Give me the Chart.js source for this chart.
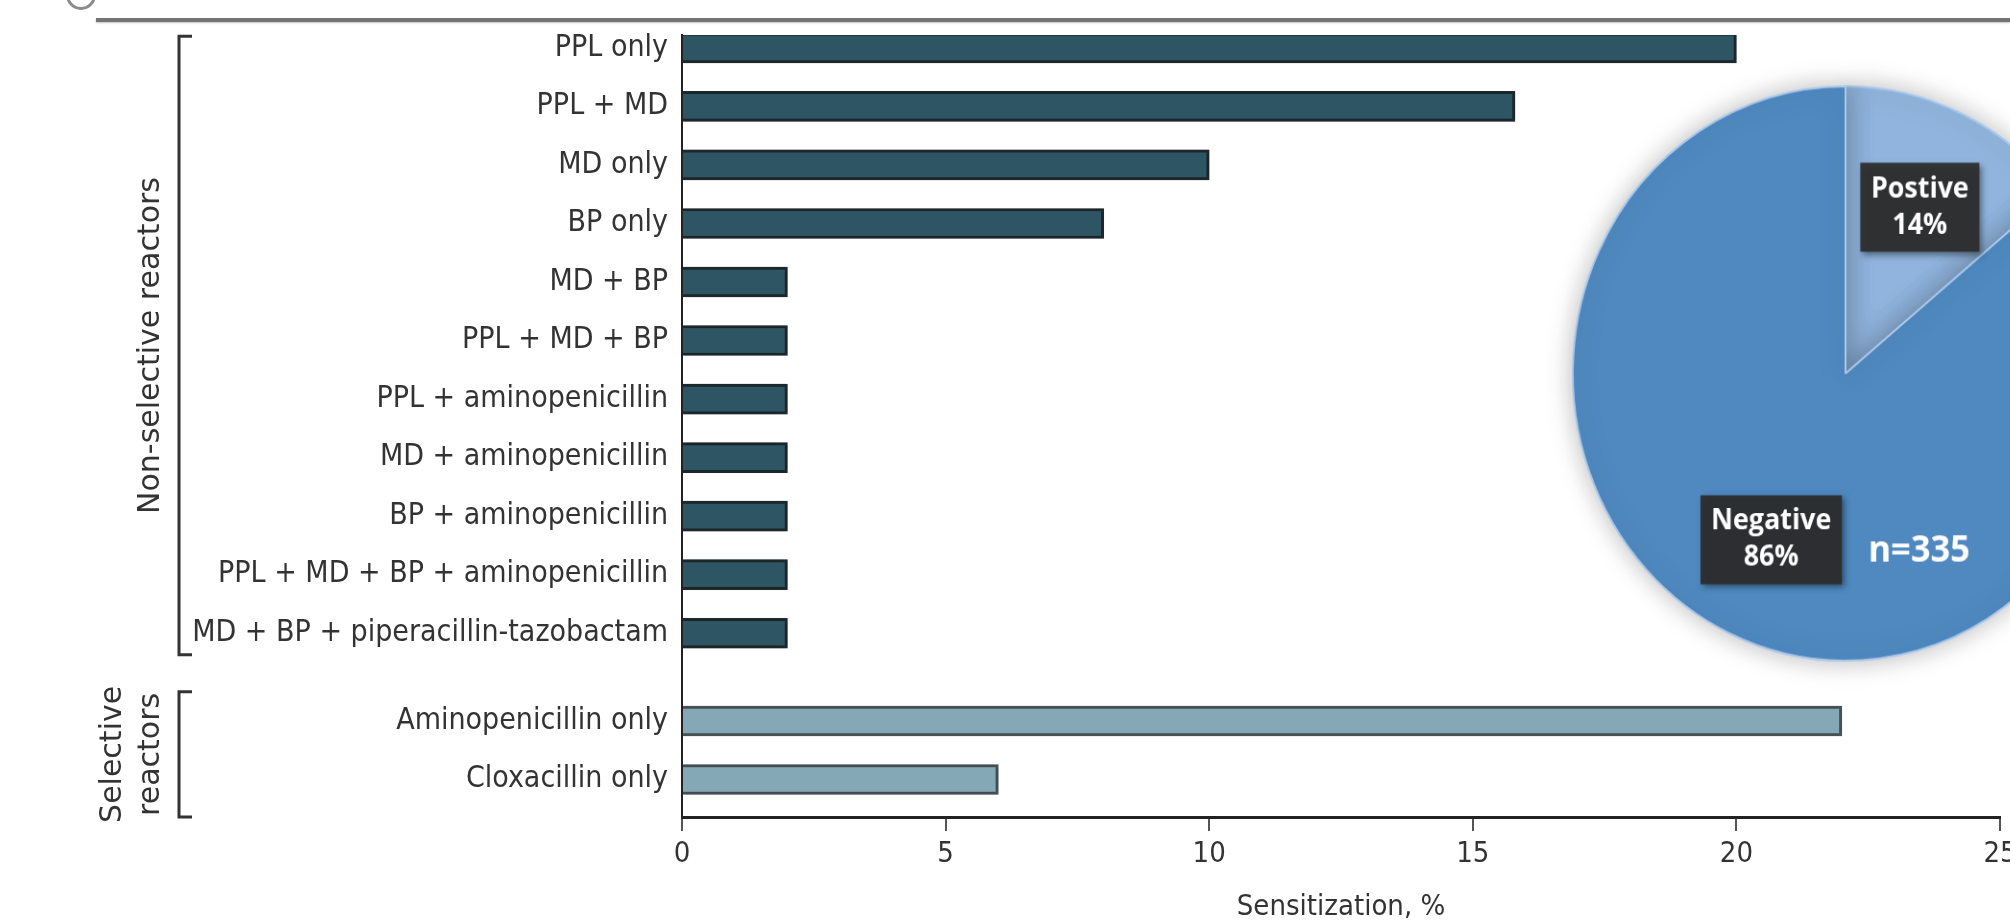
<!DOCTYPE html>
<html>
<head>
<meta charset="utf-8">
<title>Sensitization</title>
<script src="https://cdn.jsdelivr.net/npm/chart.js@4.4.0/dist/chart.umd.min.js"></script>
<style>
  html, body { margin: 0; padding: 0; background: #fff; overflow: hidden; }
  #wrap { position: relative; width: 2010px; height: 923px; overflow: hidden; }
  #barChart { position: absolute; left: 0; top: 0; }
  #pieChart { position: absolute; left: 1543px; top: 55px; width: 605px !important; height: 637px !important; }
  #rule { position: absolute; left: 96px; top: 18px; width: 1914px; height: 4px; background: #747474; box-shadow: 0 1px 2px #c4c4c4; }
  #mark { position: absolute; left: 66px; top: -20px; width: 24px; height: 24px; border: 3px solid #8a8a8a; border-radius: 50%; }
</style>
</head>
<body>
<div id="wrap">
  <div id="mark"></div>
  <div id="rule"></div>
  <canvas id="barChart" width="2010" height="923"></canvas>
  <canvas id="pieChart" width="630" height="630"></canvas>
</div>
<script>
// bar chart data
const categories = [
  'PPL only', 'PPL + MD', 'MD only', 'BP only', 'MD + BP', 'PPL + MD + BP',
  'PPL + aminopenicillin', 'MD + aminopenicillin', 'BP + aminopenicillin',
  'PPL + MD + BP + aminopenicillin', 'MD + BP + piperacillin-tazobactam',
  'Aminopenicillin only', 'Cloxacillin only'
];
const rowPositions = [0, 1, 2, 3, 4, 5, 6, 7, 8, 9, 10, 11.5, 12.5];
const sensitization = [20, 15.8, 10, 8, 2, 2, 2, 2, 2, 2, 2, 22, 6];
const reactorGroup = [0, 0, 0, 0, 0, 0, 0, 0, 0, 0, 0, 1, 1];
const groupLabels = [['Non-selective reactors'], ['Selective', 'reactors']];
const xTicks = [0, 5, 10, 15, 20, 25];

// pie data
const pieLabels = ['Postive', 'Negative'];
const piePercent = [14, 86];
const sampleSize = 335;

const groupFill = ['#2e5563', '#85a8b6'];
const groupEdge = ['#1f2a2f', '#4b575c'];
const bracketPad = [[0.2, 0.37], [0.5, 0.64]];
const labelFont = "'DejaVu Sans Condensed', 'Liberation Sans', sans-serif";

const bracketPlugin = {
  id: 'brackets',
  afterDraw(chart) {
    const ctx = chart.ctx;
    const y = chart.scales.y;
    const step = Math.abs(y.getPixelForValue(1) - y.getPixelForValue(0));
    ctx.save();
    ctx.strokeStyle = '#333';
    ctx.lineWidth = 3;
    ctx.fillStyle = '#333';
    ctx.font = "30px 'DejaVu Sans', sans-serif";
    ctx.textAlign = 'center';
    ctx.textBaseline = 'middle';
    groupLabels.forEach((lines, g) => {
      const idx = reactorGroup.map((v, i) => v === g ? i : -1).filter(i => i >= 0);
      const top = y.getPixelForValue(rowPositions[idx[0]]) - bracketPad[g][0] * step;
      const bottom = y.getPixelForValue(rowPositions[idx[idx.length - 1]]) + bracketPad[g][1] * step;
      ctx.beginPath();
      ctx.moveTo(192, top);
      ctx.lineTo(179, top);
      ctx.lineTo(179, bottom);
      ctx.lineTo(192, bottom);
      ctx.stroke();
      const mid = (top + bottom) / 2;
      lines.forEach((line, j) => {
        ctx.save();
        ctx.translate(151 - (lines.length - 1 - j) * 38, mid);
        ctx.rotate(-Math.PI / 2);
        ctx.fillText(line, 0, 0);
        ctx.restore();
      });
    });
    ctx.restore();
  }
};

const barShadow = {
  id: 'barShadow',
  beforeDatasetsDraw(chart) {
    const ctx = chart.ctx;
    ctx.save();
    ctx.shadowColor = 'rgba(0,0,0,0.35)';
    ctx.shadowBlur = 4;
  },
  afterDatasetsDraw(chart) {
    chart.ctx.restore();
  }
};

new Chart(document.getElementById('barChart'), {
  type: 'bar',
  data: {
    datasets: [{
      data: sensitization.map((v, i) => ({ x: v, y: rowPositions[i] })),
      backgroundColor: reactorGroup.map(g => groupFill[g]),
      borderColor: reactorGroup.map(g => groupEdge[g]),
      borderWidth: 3,
      barThickness: 30
    }]
  },
  options: {
    indexAxis: 'y',
    responsive: false,
    animation: false,
    layout: { padding: { top: 35, right: 10, bottom: 0, left: 0 } },
    plugins: { legend: { display: false }, tooltip: { enabled: false } },
    scales: {
      x: {
        type: 'linear',
        min: xTicks[0],
        max: xTicks[xTicks.length - 1],
        afterBuildTicks: s => { s.ticks = xTicks.map(v => ({ value: v })); },
        afterFit: s => { s.height = 106; s.paddingRight = 0; s.paddingLeft = 0; },
        grid: { drawOnChartArea: false, drawTicks: true, tickLength: 14, color: '#555', lineWidth: 2 },
        border: { display: true, color: '#222', width: 3 },
        ticks: { font: { family: labelFont, size: 29 }, color: '#333', padding: 6, maxRotation: 0 },
        title: { display: true, text: 'Sensitization, %', color: '#333',
                 font: { family: labelFont, size: 29, lineHeight: 1 }, padding: { top: 0, bottom: 1 } }
      },
      y: {
        type: 'linear',
        reverse: true,
        offset: false,
        min: -0.22,
        max: 13.14,
        afterBuildTicks: s => { s.ticks = rowPositions.map(v => ({ value: v })); },
        afterFit: s => { s.width = 682; s.paddingTop = 0; s.paddingBottom = 0; },
        grid: { display: false, drawTicks: false, offset: false },
        border: { display: true, color: '#222', width: 2 },
        ticks: {
          autoSkip: false,
          padding: 14,
          color: '#333',
          font: { family: labelFont, size: 30 },
          callback: (v, i) => categories[i]
        }
      }
    }
  },
  plugins: [barShadow, bracketPlugin]
});

const pieShadow = {
  id: 'pieShadow',
  beforeDatasetsDraw(chart) {
    const ctx = chart.ctx;
    ctx.save();
    ctx.shadowColor = 'rgba(0,0,0,0.28)';
    ctx.shadowBlur = 28;
  },
  afterDatasetsDraw(chart) {
    chart.ctx.restore();
  }
};

const pieText = {
  id: 'pieText',
  afterDraw(chart) {
    const ctx = chart.ctx;
    const arcs = chart.getDatasetMeta(0).data;
    ctx.save();
    ctx.textAlign = 'center';
    ctx.textBaseline = 'middle';
    arcs.forEach((arc, i) => {
      const mid = (arc.startAngle + arc.endAngle) / 2;
      const r = arc.outerRadius * 0.64;
      const cx = arc.x + Math.cos(mid) * r;
      const cy = arc.y + Math.sin(mid) * r;
      const lines = [pieLabels[i], piePercent[i] + '%'];
      ctx.font = "bold 28px 'Open Sans', sans-serif";
      const w = Math.max(...lines.map(t => ctx.measureText(t).width)) + 22;
      const h = 88;
      ctx.save();
      ctx.shadowColor = 'rgba(0,0,0,0.45)';
      ctx.shadowBlur = 6;
      ctx.shadowOffsetX = 3;
      ctx.shadowOffsetY = 3;
      ctx.fillStyle = 'rgba(44,44,44,0.93)';
      ctx.fillRect(cx - w / 2, cy - h / 2, w, h);
      ctx.restore();
      ctx.fillStyle = '#fff';
      ctx.fillText(lines[0], cx, cy - 18);
      ctx.fillText(lines[1], cx, cy + 18);
    });
    const a = arcs[0];
    ctx.font = "bold 36px 'Open Sans', sans-serif";
    ctx.fillStyle = '#fff';
    ctx.fillText('n=' + sampleSize, a.x + a.outerRadius * 0.27, a.y + a.outerRadius * 0.62);
    ctx.restore();
  }
};

new Chart(document.getElementById('pieChart'), {
  type: 'pie',
  data: {
    labels: pieLabels,
    datasets: [{
      data: piePercent,
      backgroundColor: ['#90b4dd', '#4f89bf'],
      borderColor: '#a9c8ea',
      borderWidth: 2
    }]
  },
  options: {
    responsive: false,
    animation: false,
    layout: { padding: 30 },
    plugins: { legend: { display: false }, tooltip: { enabled: false } }
  },
  plugins: [pieShadow, pieText]
});
</script>
</body>
</html>
